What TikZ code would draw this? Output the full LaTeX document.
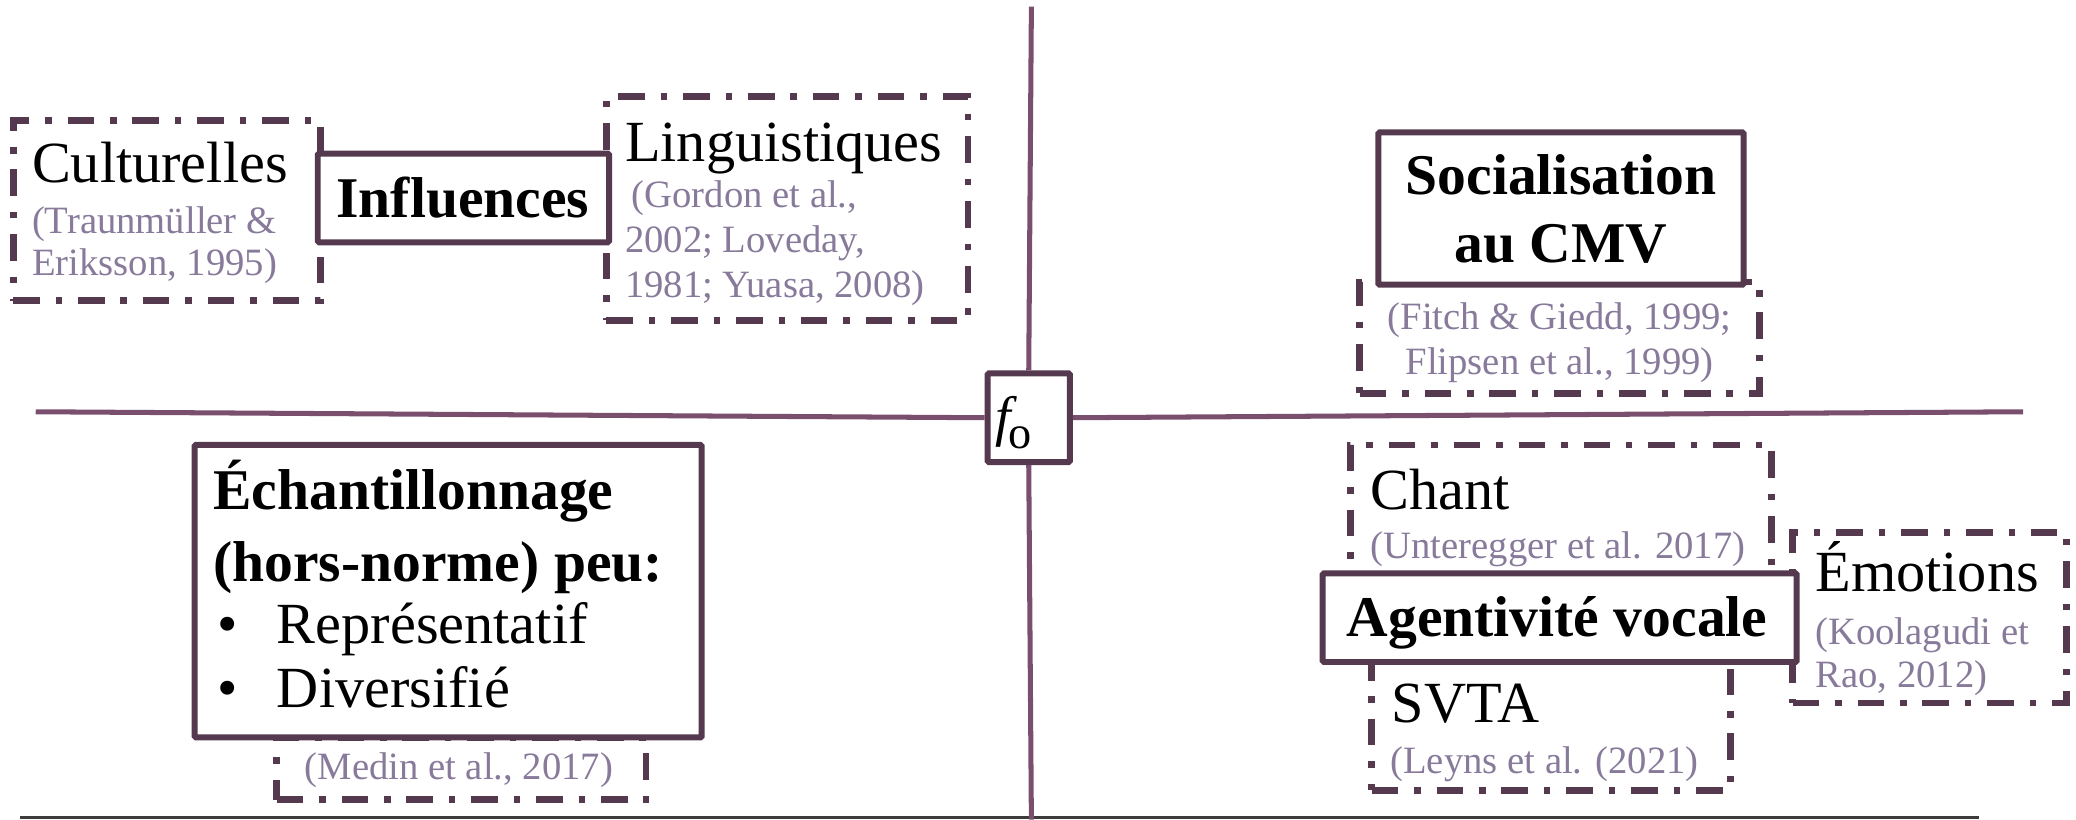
\documentclass[tikz,border=0pt]{standalone}
\usepackage{fontspec}
\setmainfont{Liberation Serif}
\usetikzlibrary{fit}
\definecolor{boxc}{HTML}{553A4F}
\definecolor{axisc}{HTML}{7A4F6E}
\definecolor{citec}{HTML}{887A9A}
\definecolor{basec}{HTML}{3C3C3C}
\tikzset{
  solidbox/.style={draw=boxc, line width=4.5pt, fill=white, rounded corners=1pt, inner sep=0pt},
  dashbox/.style={draw=boxc, line width=5pt, dash pattern=on 20pt off 12pt on 5pt off 12pt, inner sep=0pt},
  head/.style={font=\fontsize{44}{50}\selectfont, inner sep=0pt, anchor=base west},
  bhead/.style={font=\fontsize{43.5}{50}\selectfont\bfseries, inner sep=0pt, anchor=base west},
  cite/.style={font=\fontsize{29.2}{33}\selectfont, text=citec, inner sep=0pt, anchor=base west},
  axis/.style={draw=axisc, line width=3.8pt},
}
\begin{document}
\begin{tikzpicture}[x=1pt,y=-1pt]
\useasboundingbox (0,0) rectangle (1568,619);
% axes
\coordinate (vtop) at (779,5);
\coordinate (vbot) at (779,619);
\coordinate (hl) at (27,311);
\coordinate (hr) at (1528,311);
\coordinate (bl) at (15,617.5);
\coordinate (br) at (1495,617.5);
\draw[draw=basec, line width=1.8pt] (bl) -- (br);
% dashed boxes
\node[dashbox, fit={(10,91) (242,227)}] (cult) {};
\node[dashbox, fit={(458,73) (731,242)}] (ling) {};
\node[dashbox, fit={(1027,213) (1329,297)}] (fitch) {};
\node[dashbox, fit={(209,557) (488,604)}] (medin) {};
\node[dashbox, fit={(1020,336) (1338,435)}] (chant) {};
\node[dashbox, fit={(1036,498) (1307,597)}] (svta) {};
\node[dashbox, fit={(1354,402) (1561,531)}] (emo) {};
% solid boxes
\node[solidbox, fit={(746,282) (808,349)}] (f0) {};
\draw[axis] (vtop) -- (f0.north);
\draw[axis] (f0.south) -- (vbot);
\draw[axis] (hl) -- (f0.west);
\draw[axis] (f0.east) -- (hr);
\node[solidbox, fit={(240,116) (460,183)}] (infl) {};
\node[solidbox, fit={(1041,100) (1317,215)}] (soc) {};
\node[solidbox, fit={(147,336) (530,557)}] (ech) {};
\node[solidbox, fit={(999,433) (1357,500)}] (agent) {};
% texts
\node[head] (tcult) at (24,138) {Culturelles};
\node[cite] (ccult1) at (24,176) {(Traunmüller \&};
\node[cite] (ccult2) at (24,208) {Eriksson, 1995)};
\node[bhead] (tinfl) at (254,164) {Influences};
\node[head] (tling) at (472,122) {Linguistiques};
\node[cite] (cling1) at (477,157) {(Gordon et al.,};
\node[cite] (cling2) at (472,191) {2002; Loveday,};
\node[cite] (cling3) at (472,225) {1981; Yuasa, 2008)};
\node[bhead, anchor=base] (tsoc1) at (1179,147) {Socialisation};
\node[bhead, anchor=base] (tsoc2) at (1179,198) {au CMV};
\node[cite, anchor=base] (cfit1) at (1178,249) {(Fitch \& Giedd, 1999;};
\node[cite, anchor=base] (cfit2) at (1178,283) {Flipsen et al., 1999)};
\node[inner sep=0pt, anchor=base west] (tf0) at (752,329) {\fontsize{42}{42}\selectfont\itshape f\hspace{-2pt}\raisebox{-10pt}{\fontsize{35}{35}\selectfont\upshape o}};
\node[bhead] (tech1) at (161,385) {Échantillonnage};
\node[bhead] (tech2) at (161,439) {(hors-norme) peu:};
\node[head] (bul1) at (164,486) {•};
\node[head] (tech3) at (209,486) {Représentatif};
\node[head] (bul2) at (164,534) {•};
\node[head] (tech4) at (209,534) {Diversifié};
\node[cite] (cmed) at (230,589) {(Medin et al., 2017)};
\node[head] (tchant) at (1035,385) {Chant};
\node[cite] (cchant) at (1035,422) {(Unteregger et al. 2017)};
\node[bhead] (tagent) at (1017,481) {Agentivité vocale};
\node[head] (tsvta) at (1051,546) {SVTA};
\node[cite] (csvta) at (1050,584) {(Leyns et al. (2021)};
\node[head] (temo) at (1371,447) {Émotions};
\node[cite] (cemo1) at (1371,487) {(Koolagudi et};
\node[cite] (cemo2) at (1371,519) {Rao, 2012)};
\end{tikzpicture}
\end{document}
